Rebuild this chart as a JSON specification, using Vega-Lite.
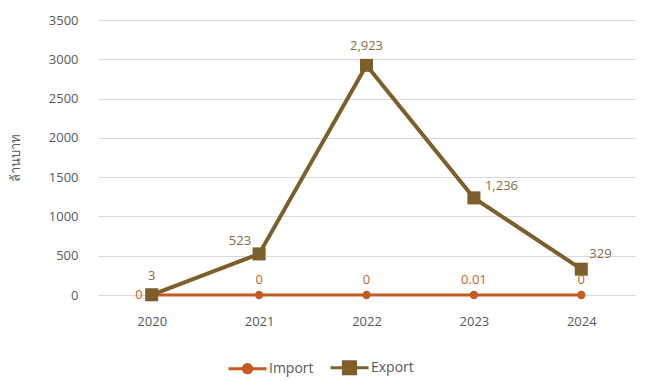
{
  "$schema": "https://vega.github.io/schema/vega-lite/v6.json",
  "width": 537,
  "height": 275,
  "autosize": "none",
  "padding": {"left": 98, "top": 20, "right": 10, "bottom": 87},
  "background": "#ffffff",
  "config": {
    "view": {"stroke": null},
    "font": "Open Sans",
    "axis": {"labelFont": "Open Sans", "labelColor": "#595959", "labelFontSize": 13, "titleColor": "#595959"},
    "legend": {"labelFont": "Open Sans"}
  },
  "data": {
    "values": [
      {"year": "2020", "series": "Import", "value": 0},
      {"year": "2021", "series": "Import", "value": 0},
      {"year": "2022", "series": "Import", "value": 0},
      {"year": "2023", "series": "Import", "value": 0.01},
      {"year": "2024", "series": "Import", "value": 0},
      {"year": "2020", "series": "Export", "value": 3},
      {"year": "2021", "series": "Export", "value": 523},
      {"year": "2022", "series": "Export", "value": 2923},
      {"year": "2023", "series": "Export", "value": 1236},
      {"year": "2024", "series": "Export", "value": 329}
    ]
  },
  "encoding": {
    "x": {"field": "year", "type": "ordinal", "scale": {"type": "point", "padding": 0.5},
      "axis": {"title": null, "labelAngle": 0, "domain": false, "ticks": false, "grid": false, "labelPadding": 20}},
    "y": {"field": "value", "type": "quantitative", "scale": {"domain": [0, 3500], "nice": false},
      "axis": {"title": "ล้านบาท", "titleFontSize": 13, "titleFontWeight": "normal", "titlePadding": 26, "format": "d",
        "values": [0, 500, 1000, 1500, 2000, 2500, 3000, 3500], "domain": false, "ticks": false,
        "gridColor": "#d9d9d9", "gridWidth": 1, "labelPadding": 20}}
  },
  "layer": [
    {"transform": [{"filter": "datum.series == 'Import'"}],
      "mark": {"type": "line", "color": "#C55A22", "strokeWidth": 3}},
    {"transform": [{"filter": "datum.series == 'Export'"}],
      "mark": {"type": "line", "color": "#7D5F2B", "strokeWidth": 4}},
    {"transform": [{"filter": "datum.series == 'Import'"}],
      "mark": {"type": "point", "shape": "circle", "filled": true, "opacity": 1, "color": "#C55A22", "size": 70}},
    {"transform": [{"filter": "datum.series == 'Export'"}],
      "mark": {"type": "point", "shape": "square", "filled": true, "opacity": 1, "color": "#7D5F2B", "size": 170}},
    {"transform": [{"filter": "datum.series == 'Import' && datum.year == '2020'"}],
      "mark": {"type": "text", "align": "right", "baseline": "middle", "dx": -9, "fontSize": 13, "color": "#C8622A"},
      "encoding": {"text": {"field": "value", "type": "quantitative", "format": ","}}},
    {"transform": [{"filter": "datum.series == 'Import' && datum.year != '2020'"}],
      "mark": {"type": "text", "align": "center", "baseline": "middle", "dy": -15, "fontSize": 13, "color": "#C8622A"},
      "encoding": {"text": {"field": "value", "type": "quantitative", "format": ","}}},
    {"transform": [{"filter": "datum.series == 'Export' && (datum.year == '2020' || datum.year == '2022')"}],
      "mark": {"type": "text", "align": "center", "baseline": "middle", "dy": -19, "fontSize": 13, "color": "#8A6D3B"},
      "encoding": {"text": {"field": "value", "type": "quantitative", "format": ","}}},
    {"transform": [{"filter": "datum.series == 'Export' && datum.year == '2021'"}],
      "mark": {"type": "text", "align": "right", "baseline": "middle", "dx": -8, "dy": -13, "fontSize": 13, "color": "#8A6D3B"},
      "encoding": {"text": {"field": "value", "type": "quantitative", "format": ","}}},
    {"transform": [{"filter": "datum.series == 'Export' && datum.year == '2023'"}],
      "mark": {"type": "text", "align": "left", "baseline": "middle", "dx": 11, "dy": -12, "fontSize": 13, "color": "#8A6D3B"},
      "encoding": {"text": {"field": "value", "type": "quantitative", "format": ","}}},
    {"transform": [{"filter": "datum.series == 'Export' && datum.year == '2024'"}],
      "mark": {"type": "text", "align": "left", "baseline": "middle", "dx": 8, "dy": -15, "fontSize": 13, "color": "#8A6D3B"},
      "encoding": {"text": {"field": "value", "type": "quantitative", "format": ","}}},
    {"transform": [{"filter": "false"}],
      "mark": {"type": "point", "filled": true, "opacity": 1},
      "encoding": {
        "color": {"field": "series", "type": "nominal",
          "scale": {"domain": ["Import", "Export"], "range": ["#C55A22", "#7D5F2B"]},
          "legend": {"orient": "none", "direction": "horizontal", "legendX": 129, "legendY": 327, "title": null,
            "symbolSize": 1444, "symbolStrokeWidth": 3, "symbolOpacity": 1, "labelFontSize": 14, "labelColor": "#595959",
            "labelOffset": 1, "columnPadding": 10}},
        "stroke": {"field": "series", "type": "nominal",
          "scale": {"domain": ["Import", "Export"], "range": ["#C55A22", "#7D5F2B"]}},
        "shape": {"field": "series", "type": "nominal",
          "scale": {"domain": ["Import", "Export"], "range": [
            "M-1,0L1,0M-0.22,0A0.22,0.22,0,1,0,0.22,0A0.22,0.22,0,1,0,-0.22,0Z",
            "M-1,0L1,0M-0.32,-0.32L0.32,-0.32L0.32,0.32L-0.32,0.32Z"]}}
      }}
  ]
}
